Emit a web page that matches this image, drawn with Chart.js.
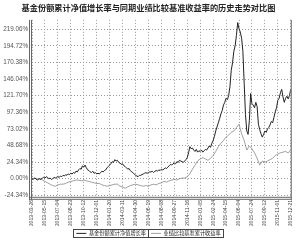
<!DOCTYPE html>
<html>
<head>
<meta charset="utf-8">
<script src="https://cdn.jsdelivr.net/npm/chart.js@4/dist/chart.umd.min.js"></script>
<style>
  html, body { margin: 0; padding: 0; background: #fff; }
</style>
</head>
<body>
<canvas id="chart" width="300" height="248"></canvas>
<script>
const tickLabels = [
  '2013-03-26', '2013-05-15', '2013-07-04', '2013-08-23', '2013-10-12', '2013-12-01',
  '2014-01-20', '2014-03-11', '2014-04-30', '2014-06-19', '2014-08-08', '2014-09-27',
  '2014-11-16', '2015-01-05', '2015-02-24', '2015-04-15', '2015-06-04', '2015-07-24',
  '2015-09-12', '2015-11-01', '2015-12-21'
]
const yTicks = [-24.34, 0, 24.34, 48.68, 73.02, 97.36, 121.70, 146.04, 170.38, 194.72, 219.06]

// fund growth, one value every 5 days
const fund = [
  0, -1, 1, 0, -2, -1, 0, -1, 1, 2,
  1, 3, 2, 0, 1, -1, 0, 2, 1, 2,
  3, 2, 4, 3, 5, 4, 6, 5, 7, 6,
  8, 7, 9, 8, 11, 10, 13, 15, 14, 19,
  17, 20, 16, 13, 12, 10, 9, 11, 8, 9,
  7, 8, 7, 9, 11, 10, 12, 13, 16, 18,
  20, 22, 25, 24, 28, 26, 27, 24, 23, 21,
  22, 19, 18, 16, 14, 15, 12, 10, 9, 7,
  5, 4, 3, 5, 5, 6, 7, 8, 9, 8,
  9, 10, 10, 11, 9, 11, 12, 11, 13, 12,
  14, 13, 14, 16, 15, 17, 19, 21, 20, 22,
  23, 22, 25, 24, 27, 26, 25, 24, 26, 28,
  31, 38, 47, 44, 45, 42, 40, 43, 39, 41,
  40, 42, 39, 41, 43, 42, 45, 48, 46, 52,
  56, 62, 70, 76, 82, 88, 95, 100, 108, 112,
  118, 116, 122, 135, 159, 170, 187, 195, 210, 229,
  220, 215, 206, 187, 140, 94, 70, 65, 85, 125,
  110, 108, 104, 112, 106, 80, 72, 66, 61, 65,
  70, 68, 73, 75, 79, 84, 82, 90, 98, 104,
  115, 118, 126, 131, 120, 112, 118, 121, 117, 122,
  131
]

// benchmark, one value every 10 days
const bench = [
  0, 1, 0, 0, -2, -4, -6, -8, -10, -11,
  -9, -8, -8, -7, -5, -4, -3, -2, -2, -3,
  -2, -3, -4, -5, -6, -7, -7, -9, -10, -11,
  -10, -9, -8, -8, -11, -12, -14, -12, -10, -9,
  -8, -9, -10, -11, -10, -11, -9, -8, -9, -7,
  -6, -4, -5, -3, -2, -1, -2, 0, 1, 1,
  3, 7, 14, 20, 26, 29, 31, 29, 27, 30,
  34, 40, 47, 52, 56, 61, 64, 68, 70, 75,
  80, 66, 56, 42, 48, 44, 38, 30, 20, 26,
  24, 26, 28, 30, 34, 36, 38, 39, 40, 38,
  42
]

const frame = {
  id: 'frame',
  afterDraw (chart) {
    const { ctx, chartArea: a } = chart
    ctx.save()
    ctx.strokeStyle = '#666'
    ctx.lineWidth = 1
    ctx.beginPath()
    ctx.moveTo(a.left - 0.5, a.top); ctx.lineTo(a.left - 0.5, a.bottom + 3)
    ctx.moveTo(a.left - 2.5, a.top); ctx.lineTo(a.left - 2.5, a.bottom + 3)
    ctx.moveTo(a.left - 3, a.bottom + 0.5); ctx.lineTo(a.right + 1, a.bottom + 0.5)
    ctx.moveTo(a.left - 3, a.bottom + 2.5); ctx.lineTo(a.right + 1, a.bottom + 2.5)
    ctx.moveTo(a.right + 0.5, a.top); ctx.lineTo(a.right + 0.5, a.bottom + 3)
    ctx.stroke()
    // boxes round the legend items
    ctx.strokeStyle = '#444'
    chart.legend.legendHitBoxes.forEach(b => {
      ctx.strokeRect(Math.round(b.left) - 2.5, Math.round(b.top) - 1.5, Math.round(b.width) + 5, Math.round(b.height) + 3)
    })
    ctx.restore()
  }
}

new Chart(document.getElementById('chart'), {
  type: 'line',
  data: {
    datasets: [{
      label: '基金份额累计净值增长率',
      data: fund.map((y, i) => ({ x: i, y })),
      borderColor: '#222',
      borderWidth: 1
    }, {
      label: '业绩比较基准累计收益率',
      data: bench.map((y, i) => ({ x: i * 2, y })),
      borderColor: '#888',
      borderWidth: 0.8
    }]
  },
  options: {
    responsive: false,
    animation: false,
    layout: { padding: { left: 0, right: 3, top: 0, bottom: 2 } },
    elements: { point: { radius: 0 }, line: { tension: 0 } },
    plugins: {
      tooltip: { enabled: false },
      title: {
        display: true,
        text: '基金份额累计净值增长率与同期业绩比较基准收益率的历史走势对比图',
        color: '#222',
        font: { family: 'Noto Sans CJK SC', size: 8.2, weight: 'bold' },
        padding: { top: 3, bottom: 7 }
      },
      legend: {
        position: 'bottom',
        labels: {
          color: '#222',
          font: { family: 'Noto Sans CJK SC', size: 5.2 },
          usePointStyle: true,
          pointStyle: 'line',
          pointStyleWidth: 10,
          padding: 5
        }
      }
    },
    scales: {
      x: {
        type: 'linear',
        min: 0,
        max: 200,
        afterBuildTicks: s => { s.ticks = tickLabels.map((_, i) => ({ value: i * 10 })) },
        afterFit: s => { s.height = 29 },
        grid: { color: '#999', drawTicks: false },
        border: { display: false, dash: [1, 2] },
        ticks: {
          autoSkip: false,
          maxRotation: 90,
          minRotation: 90,
          padding: 3,
          color: '#444',
          font: { family: 'Liberation Sans', size: 5.2 },
          callback: v => tickLabels[Math.round(v / 10)]
        }
      },
      y: {
        min: -26.5,
        max: 233,
        afterBuildTicks: s => { s.ticks = yTicks.map(v => ({ value: v })) },
        afterFit: s => { s.width = 32 },
        grid: { color: '#999', drawTicks: false },
        border: { display: false, dash: [1, 2] },
        ticks: {
          padding: 4,
          color: '#555',
          font: { family: 'Liberation Sans', size: 6.3 },
          callback: v => v.toFixed(2) + '%'
        }
      }
    }
  },
  plugins: [frame]
})
</script>
</body>
</html>
